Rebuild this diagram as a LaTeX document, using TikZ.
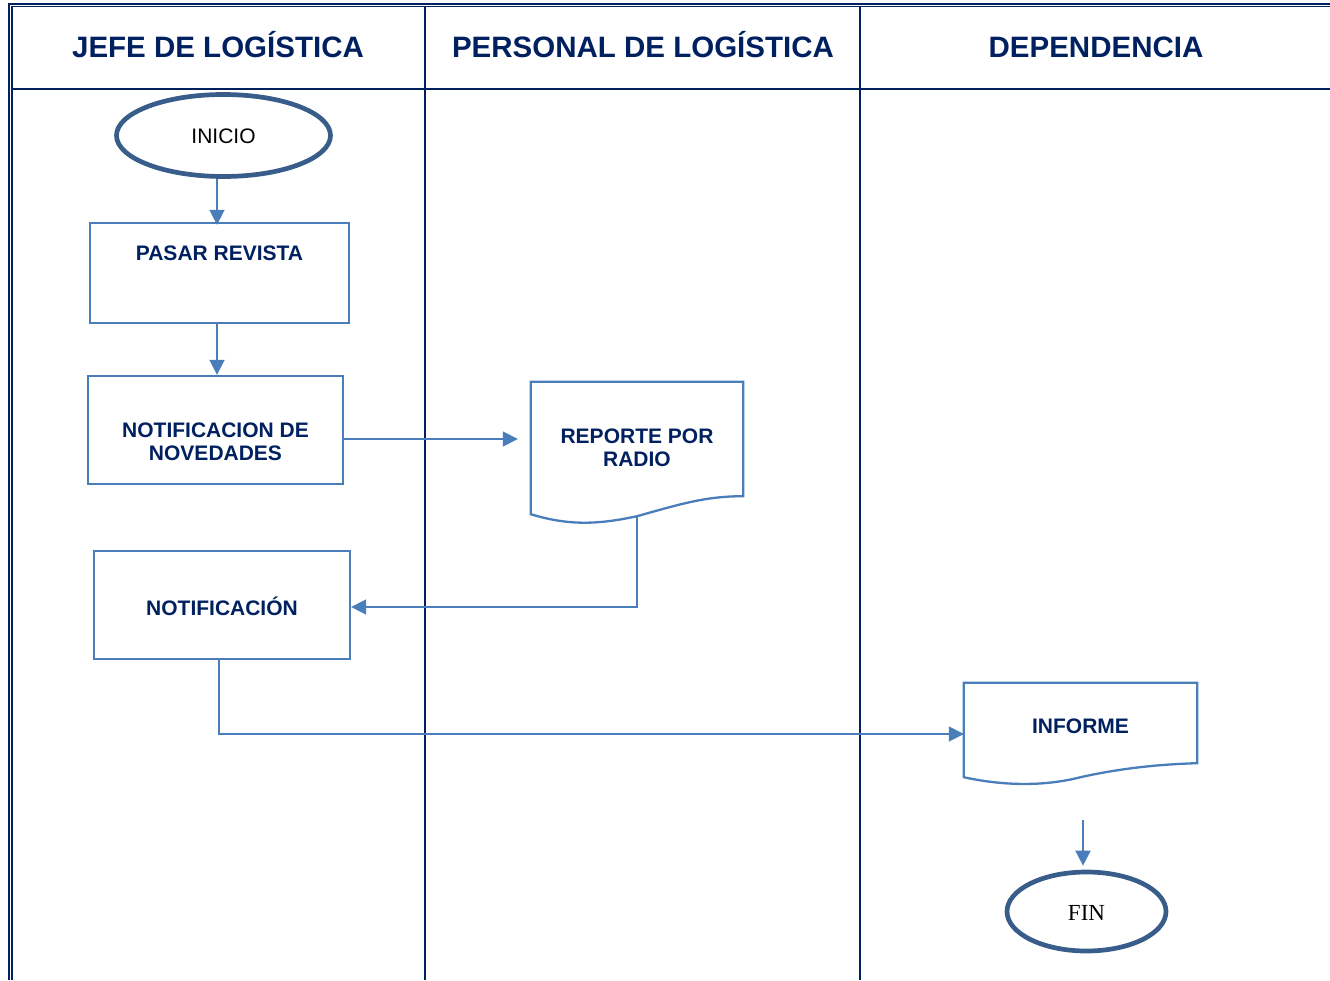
\documentclass[tikz,border=0pt]{standalone}
\usepackage{fontspec}
\setmainfont{Liberation Sans}
\newfontfamily\timesfont{Liberation Serif}
\usetikzlibrary{arrows.meta,shapes.geometric}
\definecolor{navy}{RGB}{0,32,96}
\definecolor{boxblue}{RGB}{74,126,187}
\definecolor{ringblue}{RGB}{56,93,138}
\definecolor{flowblue}{RGB}{74,126,187}

\begin{document}
\begin{tikzpicture}[x=1pt,y=-1pt,
  frameline/.style={draw=navy,line width=2pt},
  lanehead/.style={text=navy,font=\fontsize{29.5}{32}\selectfont\bfseries,anchor=base,inner sep=0pt},
  terminal/.style={ellipse,draw=ringblue,line width=4.7pt,inner sep=0pt},
  task/.style={rectangle,draw=boxblue,line width=2.3pt,inner sep=0pt},
  tasktext/.style={text=navy,font=\fontsize{21}{23}\selectfont\bfseries,align=center,inner sep=0pt},
  docbox/.style={rectangle,inner sep=0pt},
  docline/.style={draw=boxblue,line width=2.3pt,line join=miter},
  flow/.style={draw=flowblue,line width=1.7pt,-{Triangle[length=15pt,width=15pt]}},
]
\useasboundingbox (0,0) rectangle (1330,980);

% swimlane frame: double rule on top and left
\draw[navy,line width=2.3pt] (9,980) -- (9,3.7) -- (1330,3.7);
\draw[navy,line width=1.5pt] (12.2,980) -- (12.2,6.3) -- (1330,6.3);
\draw[frameline] (12.2,89) -- (1330,89);
\draw[frameline] (425,6.3) -- (425,980);
\draw[frameline] (860,6.3) -- (860,980);

% lane titles
\node[lanehead] (h1) at (218,57) {JEFE DE LOGÍSTICA};
\node[lanehead] (h2) at (643,57) {PERSONAL DE LOGÍSTICA};
\node[lanehead] (h3) at (1096,57) {DEPENDENCIA};

% start / end
\node[terminal,minimum width=214pt,minimum height=82pt,
      label={[font=\fontsize{21}{23}\selectfont,inner sep=0pt,yshift=-1pt]center:INICIO}]
      (inicio) at (223.5,135.5) {};
\node[terminal,minimum width=159pt,minimum height=79pt,
      label={[font=\timesfont\fontsize{23}{25}\selectfont,inner sep=0pt,yshift=-1.5pt]center:FIN}]
      (fin) at (1086.5,911.5) {};

% process boxes
\node[task,minimum width=259pt,minimum height=100pt,
      label={[tasktext,yshift=20pt]center:PASAR REVISTA}]
      (pasar) at (219.5,273) {};
\node[task,minimum width=255pt,minimum height=108pt,
      label={[tasktext,yshift=-12pt]center:NOTIFICACION DE\\NOVEDADES}]
      (notif) at (215.5,430) {};
\node[task,minimum width=256pt,minimum height=108pt,
      label={[tasktext,yshift=-1pt]center:NOTIFICACIÓN}]
      (notifb) at (222,605) {};

% document shapes
\node[docbox,minimum width=212pt,minimum height=132pt,
      label={[tasktext,yshift=0pt]center:REPORTE POR\\RADIO}]
      (rep) at (637,448) {};
\draw[docline] (rep.south west) .. controls +(39,12) and +(-37,8) .. ([yshift=-2pt]rep.south)
  .. controls +(43,-12) and +(-38,0) .. ([yshift=18pt]rep.south east)
  -- (rep.north east) -- (rep.north west) -- cycle;

\node[docbox,minimum width=233pt,minimum height=94pt,
      label={[tasktext,yshift=4pt]center:INFORME}]
      (inf) at (1080.5,730) {};
\draw[docline] (inf.south west) .. controls +(41,9) and +(-35,9) .. (inf.south)
  .. controls +(40,-9) and +(-37,1) .. ([yshift=14pt]inf.south east)
  -- (inf.north east) -- (inf.north west) -- cycle;

% connectors
\draw[flow] ([xshift=-6.5pt]inicio.south) -- ([xshift=-6.5pt,yshift=-3pt]inicio.south |- pasar.north);
\draw[flow] ([xshift=-2.5pt]pasar.south) -- ([xshift=-2.5pt]pasar.south |- notif.north);
\draw[flow,shorten >=13pt] ([yshift=-9pt]notif.east) -- ([yshift=-9pt]notif.east -| rep.west);
\draw[flow] ([yshift=-2pt]rep.south) |- ([yshift=-2pt]notifb.east);
\draw[flow] ([xshift=-3pt]notifb.south) |- ([yshift=-4pt]inf.west);
\coordinate (infout) at (1083,820);
\draw[flow,shorten >=4pt] (infout) -- (infout |- fin.north);

\end{tikzpicture}
\end{document}
